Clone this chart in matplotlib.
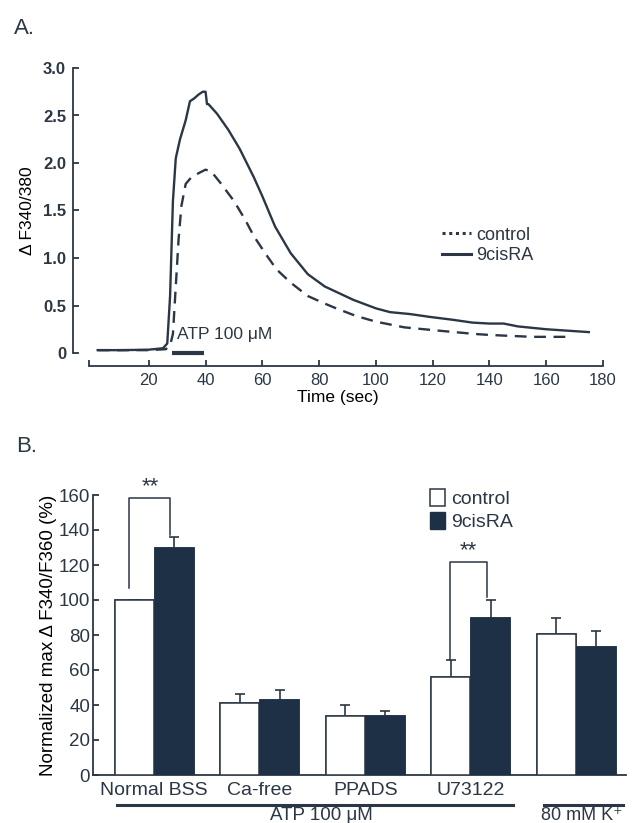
import matplotlib
matplotlib.use("Agg")
import matplotlib.pyplot as plt
from matplotlib.lines import Line2D
from matplotlib.patches import Patch
import numpy as np

# ---------------- Data ----------------
# Panel A: calcium traces
t_9cis = [2, 10, 20, 25, 26.5, 27.5, 28.5, 29.5, 31, 33, 34.5, 36, 37.5, 39, 40, 40.5,
          41, 44, 48, 52, 57, 60, 64.5, 70, 76, 82, 92, 100, 105, 112, 119, 127, 134,
          140, 145, 150, 160, 175]
y_9cis = [0.03, 0.03, 0.035, 0.05, 0.1, 0.6, 1.6, 2.05, 2.25, 2.45, 2.65, 2.68, 2.72,
          2.75, 2.75, 2.62, 2.62, 2.52, 2.35, 2.15, 1.85, 1.65, 1.33, 1.05, 0.83, 0.7,
          0.56, 0.47, 0.43, 0.41, 0.38, 0.35, 0.32, 0.31, 0.31, 0.28, 0.25, 0.22]
t_ctrl = [2, 20, 26, 27.5, 28.5, 29.5, 30.5, 31.5, 33, 35, 38, 40, 42, 45, 48, 50, 54,
          57, 61, 65, 70, 76, 82, 86, 93, 100, 110, 124, 135, 140, 155, 169]
y_ctrl = [0.03, 0.03, 0.04, 0.08, 0.2, 0.7, 1.2, 1.55, 1.78, 1.85, 1.9, 1.93, 1.91, 1.8,
          1.68, 1.6, 1.4, 1.23, 1.05, 0.88, 0.74, 0.6, 0.52, 0.47, 0.39, 0.33, 0.27,
          0.23, 0.2, 0.19, 0.17, 0.17]
atp_window = [28, 39.5]
xticks_A = [20, 40, 60, 80, 100, 120, 140, 160, 180]
yticks_A = [0, 0.5, 1.0, 1.5, 2.0, 2.5, 3.0]
yticklabels_A = ["0", "0.5", "1.0", "1.5", "2.0", "2.5", "3.0"]

# Panel B: normalized peak responses
categories = ["Normal BSS", "Ca-free", "PPADS", "U73122", ""]
control_vals = [100, 41, 34, 56, 80.5]
control_err = [0, 5.5, 6, 9.5, 9]
cis_vals = [130, 43, 34, 90, 73]
cis_err = [6, 5.5, 2.5, 10, 9.5]
yticks_B = [0, 20, 40, 60, 80, 100, 120, 140, 160]

# ---------------- Style ----------------
ink = "#2b3744"
barc = "#1e3045"
plt.rcParams['font.family'] = ['Liberation Sans', 'DejaVu Sans']
plt.rcParams['text.color'] = ink
plt.rcParams['axes.edgecolor'] = ink
plt.rcParams['xtick.color'] = ink
plt.rcParams['ytick.color'] = ink

W, H = 638, 823
fig = plt.figure(figsize=(W / 100, H / 100), dpi=100)

# ---------------- Panel A ----------------
axA = fig.add_axes([73 / W, 1 - 353 / H, (603 - 73) / W, (353 - 68) / H])
axA.set_xlim(-6.7, 180)
axA.set_ylim(0, 3.0)
axA.plot(t_9cis, y_9cis, color=ink, lw=1.7, solid_joinstyle='round')
axA.plot(t_ctrl, y_ctrl, color=ink, lw=1.7, dashes=(5, 3.2))
axA.plot(atp_window, [0.0, 0.0], color=ink, lw=3, solid_capstyle='butt', clip_on=False)
axA.text(30.0, 0.12, "ATP 100 \u03bcM", fontsize=12.5, ha='left', va='bottom')

for s in ['top', 'right']:
    axA.spines[s].set_visible(False)
axA.spines['left'].set_bounds(0, 3.0)
axA.spines['bottom'].set_position(('outward', 9.5))
axA.spines['bottom'].set_bounds(-1, 180)
axA.spines['left'].set_linewidth(1.3)
axA.spines['bottom'].set_linewidth(1.3)
axA.set_xticks([-1] + xticks_A)
axA.set_xticklabels([""] + [str(v) for v in xticks_A], fontsize=12)
axA.set_yticks(yticks_A)
axA.set_yticklabels(yticklabels_A, fontsize=12, fontweight='bold')
axA.tick_params(direction='in', length=4, width=1.3, pad=5)
axA.set_xlabel("Time (sec)", fontsize=12.5, labelpad=1)
axA.set_ylabel("\u0394 F340/380", fontsize=12.5, labelpad=6)

handles_A = [Line2D([], [], color=ink, lw=2.2, linestyle=(0, (1, 1.2))),
             Line2D([], [], color=ink, lw=2.2)]
axA.legend(handles_A, ["control", "9cisRA"], loc='upper left',
           bbox_to_anchor=(0.665, 0.50), frameon=False, fontsize=13,
           handlelength=1.6, handletextpad=0.3, labelspacing=0.2)

fig.text(14 / W, 1 - 34 / H, "A.", fontsize=16, ha='left', va='baseline')

# ---------------- Panel B ----------------
axB = fig.add_axes([93 / W, 1 - 775 / H, (626 - 93) / W, (775 - 495) / H])
x = np.arange(len(categories))
bw = 0.37
off = 0.19
axB.bar(x - off, control_vals, bw, color='white', edgecolor=ink, lw=1.1,
        yerr=control_err, error_kw=dict(ecolor=ink, elinewidth=1.2, capsize=3.5,
                                        capthick=1.2),
        zorder=2)
axB.bar(x + off, cis_vals, bw, color=barc, edgecolor=barc, lw=1.1,
        yerr=cis_err, error_kw=dict(ecolor=ink, elinewidth=1.2, capsize=3.5,
                                    capthick=1.2),
        zorder=2)
# cover the lower halves of the error bars (one-sided bars as in the original)
axB.bar(x - off, control_vals, bw, color='white', edgecolor=ink, lw=1.1, zorder=3)
axB.bar(x + off, cis_vals, bw, color=barc, edgecolor=barc, lw=1.1, zorder=3)

axB.set_xlim(-0.58, 4.47)
axB.set_ylim(0, 160)
for s in ['top', 'right']:
    axB.spines[s].set_visible(False)
axB.spines['left'].set_linewidth(1.3)
axB.spines['bottom'].set_linewidth(1.3)
axB.set_yticks(yticks_B)
axB.set_yticklabels([str(v) for v in yticks_B], fontsize=13.5)
axB.tick_params(axis='y', direction='in', length=4, width=1.3, pad=2)
axB.set_xticks(x[:4])
axB.set_xticklabels(categories[:4], fontsize=14)
axB.tick_params(axis='x', length=0, pad=5)
axB.set_ylabel("Normalized max \u0394 F340/F360 (%)", fontsize=13.5, labelpad=1)

# significance brackets
def bracket(ax, x0, y0, x1, y1, ytop, xs):
    ax.plot([x0, x0, x1, x1], [y0, ytop, ytop, y1], color=ink, lw=1.1, clip_on=False)
    ax.text(xs, ytop + 0.5, "**", fontsize=16, ha='center', va='bottom', clip_on=False)

bracket(axB, 0 - 0.24, 107, 0 + 0.15, 137, 158.5, -0.04)
bracket(axB, 3 - 0.2, 66, 3 + 0.15, 102, 121.5, 2.98)

# group lines below
axB.plot([-0.35, 3.4], [-17, -17], color=ink, lw=2.2, clip_on=False)
axB.text(1.58, -18.0, "ATP 100 \u03bcM", fontsize=13.5, ha='center', va='top')
axB.plot([3.69, 4.44], [-17, -17], color=ink, lw=2.2, clip_on=False)
axB.text(4.05, -18.0, "80 mM K\u207a", fontsize=13, ha='center', va='top')

handles_B = [Patch(facecolor='white', edgecolor=ink, lw=1.1),
             Patch(facecolor=barc, edgecolor=barc)]
axB.legend(handles_B, ["control", "9cisRA"], loc='upper left',
           bbox_to_anchor=(0.6, 1.085), frameon=False, fontsize=14,
           handlelength=0.75, handleheight=1.0, handletextpad=0.3, labelspacing=0.2)

fig.text(16 / W, 1 - 452 / H, "B.", fontsize=16, ha='left', va='baseline')

fig.savefig("out.png", dpi=100)
